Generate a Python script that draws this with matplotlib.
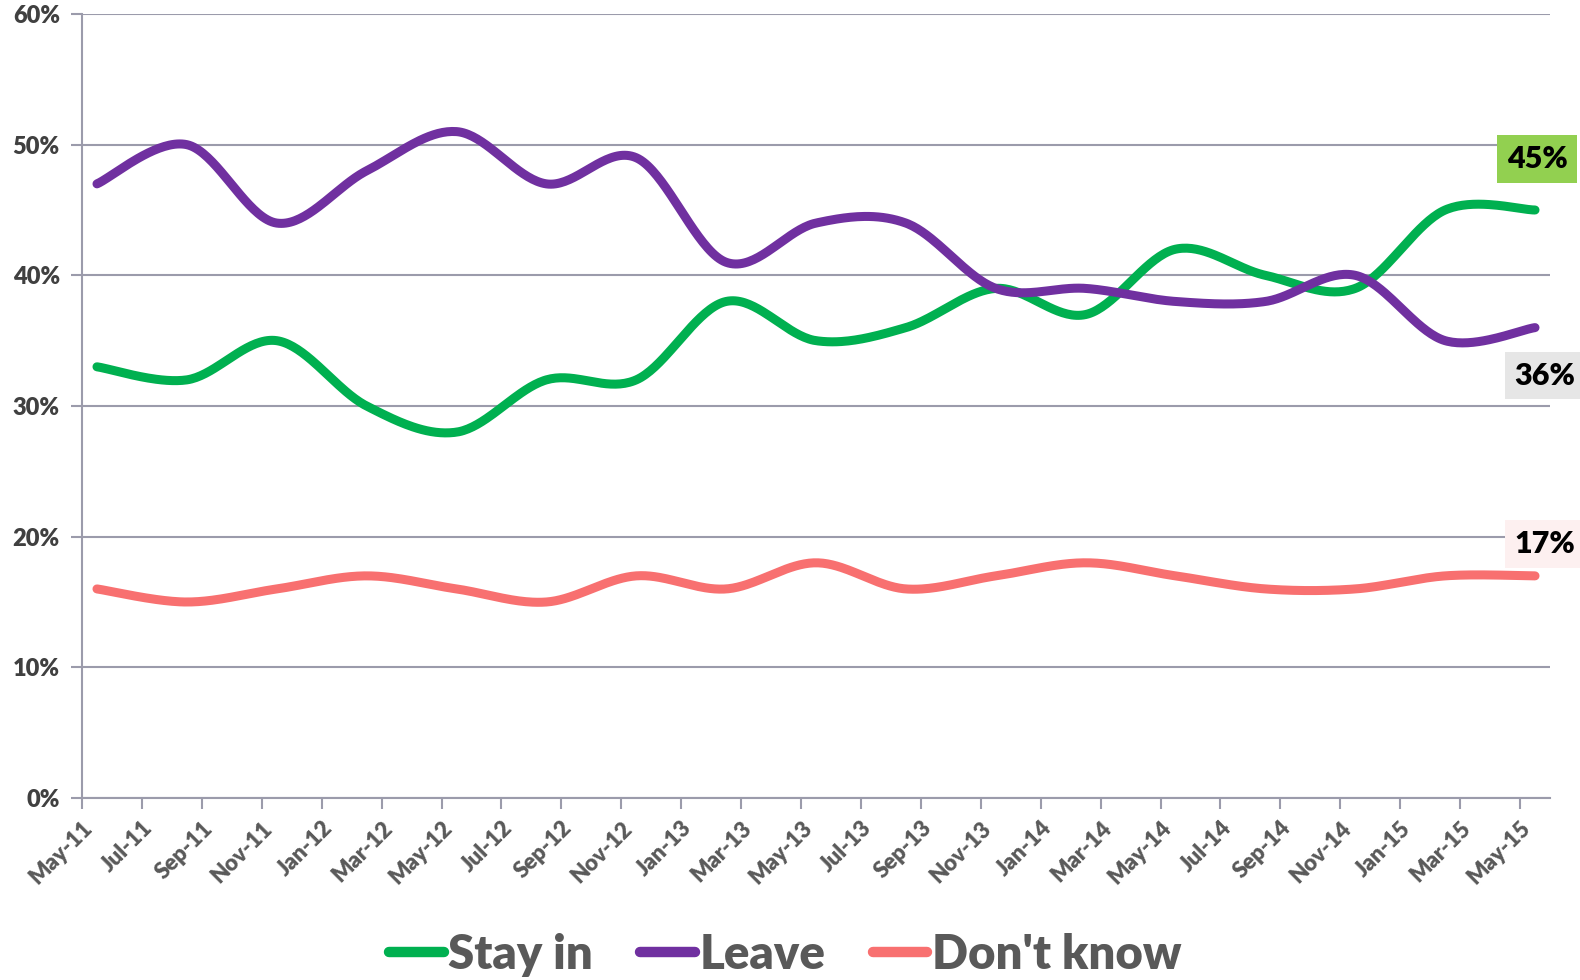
import numpy as np
import matplotlib.pyplot as plt
from matplotlib.lines import Line2D

plt.rcParams['font.family'] = ['Lato', 'DejaVu Sans']

# quarterly poll results (%), first poll mid-May 2011
stay = [33, 32, 35, 30, 28, 32, 32, 38, 35, 36, 39, 37, 42, 40, 39, 45, 45]
leave = [47, 50, 44, 48, 51, 47, 49, 41, 44, 44, 39, 39, 38, 38, 40, 35, 36]
dont_know = [16, 15, 16, 17, 16, 15, 17, 16, 18, 16, 17, 18, 17, 16, 16, 17, 17]
months = np.arange(len(stay)) * 3 + 0.5          # months after May-11

tick_labels = ["May-11", "Jul-11", "Sep-11", "Nov-11", "Jan-12", "Mar-12", "May-12",
               "Jul-12", "Sep-12", "Nov-12", "Jan-13", "Mar-13", "May-13", "Jul-13",
               "Sep-13", "Nov-13", "Jan-14", "Mar-14", "May-14", "Jul-14", "Sep-14",
               "Nov-14", "Jan-15", "Mar-15", "May-15"]

GREEN, PURPLE, RED = "#00b050", "#7030a0", "#f87070"
GRID = "#9b9bab"


def smooth(x, y, n=40):
    """Bezier smoothing through every point, like a spreadsheet smoothed line."""
    p = np.column_stack([x, y]).astype(float)
    p = np.vstack([p[0], p, p[-1]])
    out = []
    for i in range(1, len(p) - 2):
        p0, p1, p2, p3 = p[i - 1], p[i], p[i + 1], p[i + 2]
        c1 = p1 + (p2 - p0) / 6
        c2 = p2 - (p3 - p1) / 6
        t = np.linspace(0, 1, n)[:, None]
        seg = ((1 - t) ** 3 * p1 + 3 * (1 - t) ** 2 * t * c1
               + 3 * (1 - t) * t ** 2 * c2 + t ** 3 * p2)
        out.append(seg if i == 1 else seg[1:])
    s = np.vstack(out)
    return s[:, 0], s[:, 1]


fig = plt.figure(figsize=(15.8, 9.8), dpi=100)
ax = fig.add_axes([82 / 1580, 1 - 798 / 980, (1550 - 82) / 1580, (798 - 14) / 980])

series = [(stay, GREEN, "Stay in"), (leave, PURPLE, "Leave"), (dont_know, RED, "Don't know")]
for vals, col, name in series:
    sx, sy = smooth(months, vals)
    ax.plot(sx, sy, color=col, lw=6.5, solid_capstyle="round", zorder=3)

ax.set_xlim(0, 49)
ax.set_ylim(0, 60)
ax.set_yticks(range(0, 61, 10))
ax.set_yticklabels([f"{v}%" for v in range(0, 61, 10)], fontsize=17,
                   fontweight="heavy", color="#404040")
ax.set_xticks(range(0, 49, 2))
ax.set_xticklabels(tick_labels, rotation=45, ha="right", rotation_mode="anchor",
                   fontsize=16, fontweight="heavy", color="#595959")
ax.tick_params(axis="both", direction="out", length=8, width=1.5, color=GRID)
ax.tick_params(axis="x", pad=6)
ax.tick_params(axis="y", pad=8)
ax.grid(axis="y", color=GRID, lw=1.5)
ax.set_axisbelow(True)
for side in ("top", "right"):
    ax.spines[side].set_visible(False)
for side in ("left", "bottom"):
    ax.spines[side].set_color(GRID)
    ax.spines[side].set_linewidth(1.5)

# end-of-series value tags
tags = [(stay, "#92d050", (2, 51)), (leave, "#e6e6e6", (10, -48)), (dont_know, "#fdf0f0", (10, 32))]
for vals, face, off in tags:
    ax.annotate(f"{vals[-1]}%", xy=(months[-1], vals[-1]), xytext=off,
                textcoords="offset pixels", ha="center", va="center",
                fontsize=22, fontweight="heavy", color="black", annotation_clip=False,
                bbox=dict(boxstyle="square,pad=0.32", fc=face, ec="none"), zorder=5)

handles = [Line2D([], [], color=c, lw=7.5, solid_capstyle="round") for _, c, _ in series]
leg = fig.legend(handles, [n for _, _, n in series], loc="center", ncol=3,
                 bbox_to_anchor=(0.497, 1 - 955 / 980), frameon=False,
                 handlelength=1.15, handletextpad=0.1, columnspacing=1.0,
                 prop=dict(size=34, weight="heavy"))
for t in leg.get_texts():
    t.set_color("#595959")

fig.savefig("out.png", dpi=100, facecolor="white")
